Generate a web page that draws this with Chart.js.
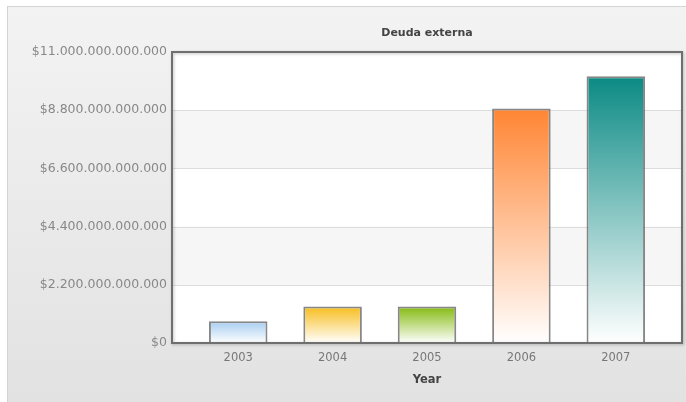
<!DOCTYPE html>
<html>
<head>
<meta charset="utf-8">
<script src="https://cdn.jsdelivr.net/npm/chart.js@4"></script>
<style>
  html, body { margin: 0; padding: 0; background: #ffffff; }
  #wrap { width: 686px; height: 402px; }
</style>
</head>
<body>
<div id="wrap"><canvas id="debtChart" width="686" height="402"></canvas></div>
<script>
// Data
const years = ['2003', '2004', '2005', '2006', '2007'];
const debt = [0.82e12, 1.38e12, 1.38e12, 8.86e12, 10.08e12];
const topColors = ['#a6ccf0', '#f7bd1c', '#84ba0f', '#ff8533', '#0b8a84'];
const yMax = 11e12;
const yStep = 2.2e12;

function formatMoney(v) {
    const s = String(Math.round(v)).replace(/\B(?=(\d{3})+(?!\d))/g, '.');
    return '$' + s;
}

// background panel, alternating bands, grid lines and frame
const framePlugin = {
    id: 'frame',
    beforeDraw(chart) {
        const c = chart.ctx;
        const w = chart.width, h = chart.height;
        c.save();
        c.fillStyle = '#ffffff';
        c.fillRect(0, 0, w, h);
        const g = c.createLinearGradient(0, 6, 0, h);
        g.addColorStop(0, '#f3f3f3');
        g.addColorStop(1, '#e2e2e2');
        c.fillStyle = g;
        c.fillRect(7, 6, w - 7, h - 6);
        c.strokeStyle = '#d4d4d4';
        c.lineWidth = 1;
        c.strokeRect(7.5, 6.5, w - 7, h - 6);
        c.restore();
    },
    beforeDatasetsDraw(chart) {
        const c = chart.ctx;
        const a = chart.chartArea;
        const y = chart.scales.y;
        const ext = 19;
        const L = a.left - ext, R = a.right + ext;
        c.save();
        c.fillStyle = '#ffffff';
        c.fillRect(L, a.top, R - L, a.bottom - a.top);
        const ticks = y.ticks.map(t => t.value);
        for (let i = 0; i < ticks.length - 1; i++) {
            if (i % 2 === 1) {
                const y0 = y.getPixelForValue(ticks[i]);
                const y1 = y.getPixelForValue(ticks[i + 1]);
                c.fillStyle = '#f6f6f6';
                c.fillRect(L, y1, R - L, y0 - y1);
            }
        }
        c.strokeStyle = '#dddddd';
        c.lineWidth = 1;
        ticks.forEach(v => {
            const py = Math.round(y.getPixelForValue(v)) + 0.5;
            c.beginPath();
            c.moveTo(L, py);
            c.lineTo(R, py);
            c.stroke();
        });
        c.restore();
    },
    afterDatasetsDraw(chart) {
        const c = chart.ctx;
        const a = chart.chartArea;
        const ext = 19;
        c.save();
        c.shadowColor = 'rgba(0,0,0,0.25)';
        c.shadowBlur = 3;
        c.shadowOffsetX = 1;
        c.shadowOffsetY = 1;
        c.strokeStyle = '#6f6f6f';
        c.lineWidth = 2;
        c.strokeRect(a.left - ext, a.top, a.right - a.left + 2 * ext, a.bottom - a.top);
        c.restore();
    }
};

const ctx = document.getElementById('debtChart').getContext('2d');

const debtChart = new Chart(ctx, {
    type: 'bar',
    data: {
        labels: years,
        datasets: [{
            label: 'Deuda externa',
            data: debt,
            backgroundColor: function (context) {
                const chart = context.chart;
                const i = context.dataIndex;
                if (!chart.chartArea || context.parsed == null) return topColors[i];
                const ys = chart.scales.y;
                const top = ys.getPixelForValue(context.parsed.y);
                const base = ys.getPixelForValue(0);
                const g = chart.ctx.createLinearGradient(0, top, 0, base);
                g.addColorStop(0, topColors[i]);
                g.addColorStop(1, '#ffffff');
                return g;
            },
            borderColor: 'rgba(95,95,95,0.75)',
            borderWidth: 2,
            categoryPercentage: 1,
            barPercentage: 0.62
        }]
    },
    options: {
        responsive: false,
        animation: false,
        layout: {
            padding: { left: 0, right: 23, top: 0, bottom: 0 }
        },
        plugins: {
            legend: { display: false },
            title: { display: false },
            tooltip: { enabled: false }
        },
        scales: {
            x: {
                position: 'bottom',
                grid: { display: false, drawTicks: false },
                border: { display: false },
                ticks: {
                    color: '#777777',
                    font: { family: 'DejaVu Sans', size: 11.5 },
                    padding: 8
                },
                title: {
                    display: true,
                    text: 'Year',
                    color: '#444444',
                    font: { family: 'DejaVu Sans', size: 11.5, weight: 'bold' },
                    padding: { top: 4, bottom: 15 }
                },
                afterFit: function (scale) { scale.height = 59; }
            },
            x2: {
                position: 'top',
                type: 'category',
                labels: years,
                grid: { display: false, drawTicks: false },
                border: { display: false },
                ticks: { display: false },
                title: {
                    display: true,
                    text: 'Deuda externa',
                    color: '#444444',
                    font: { family: 'DejaVu Sans', size: 11, weight: 'bold' },
                    padding: { top: 27, bottom: 0 }
                },
                afterFit: function (scale) { scale.height = 52; }
            },
            y: {
                min: 0,
                max: yMax,
                grid: { display: false, drawTicks: false },
                border: { display: false },
                ticks: {
                    stepSize: yStep,
                    color: '#888888',
                    font: { family: 'DejaVu Sans', size: 12.5 },
                    padding: 24,
                    callback: function (value) { return formatMoney(value); }
                },
                afterFit: function (scale) { scale.width = 191; }
            }
        }
    },
    plugins: [framePlugin]
});
</script>
</body>
</html>
